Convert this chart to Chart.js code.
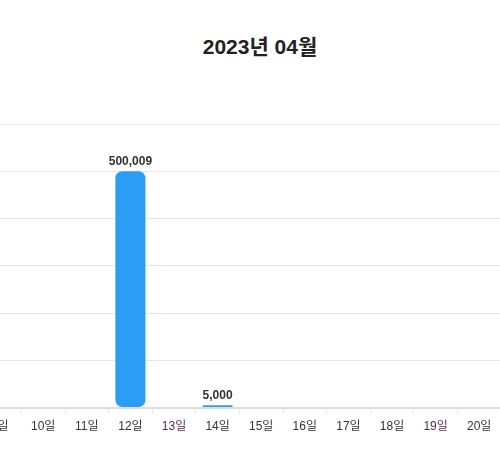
<!DOCTYPE html>
<html><head><meta charset="utf-8">
<script src="https://cdn.jsdelivr.net/npm/chart.js@4"></script>
<style>
body{margin:0;width:500px;height:450px;overflow:hidden;background:#fff;position:relative;font-family:"Liberation Sans","Noto Sans CJK KR",sans-serif}
#t{position:absolute;top:30px;left:0;width:520px;text-align:center;font-size:21px;font-weight:bold;color:#222}
#w{position:absolute;left:-370.6px;top:100px;width:1308px;height:350px}
</style></head><body>
<div id="t">2023년 04월</div>
<div id="w"><canvas id="c"></canvas></div>
<script>
const days=[];for(let d=1;d<=30;d++)days.push(d+'일');
const values=[0,0,0,0,0,0,0,0,0,0,0,500009,0,5000,0,0,0,0,0,0,0,0,0,0,0,0,0,0,0,0];
const purpleDays=['13일','19일'];
const F='"Liberation Sans", "Noto Sans CJK KR", sans-serif';
const lbl={id:'lbl',afterDatasetsDraw(ch){const c=ch.ctx;const m=ch.getDatasetMeta(0);c.save();c.font='bold 12px '+F;c.fillStyle='#333';c.textAlign='center';c.textBaseline='bottom';
m.data.forEach((b,i)=>{const v=values[i];if(v>0)c.fillText(v.toLocaleString('en-US'),b.x,b.y-4);});c.restore();}};
new Chart(document.getElementById('c'),{type:'bar',data:{labels:days,datasets:[{data:values,backgroundColor:'#2a9df4',borderRadius:7,borderSkipped:false,barPercentage:0.69,categoryPercentage:1}]},
options:{responsive:true,maintainAspectRatio:false,animation:false,layout:{padding:{top:24,bottom:10}},plugins:{legend:{display:false},tooltip:{enabled:false}},
scales:{y:{display:true,min:0,max:600000,ticks:{stepSize:100000,display:false},grid:{color:'#e6e6e6',drawTicks:false},border:{display:false}},
x:{offset:true,grid:{drawOnChartArea:false,offset:true,tickLength:6,color:'#e6e6e6'},border:{color:'#dcdcdc',width:2},ticks:{font:{size:12,family:F},color:(c)=>purpleDays.includes(days[c.index])?'#5a2a55':'#333',padding:6}}}},plugins:[lbl]});
</script></body></html>
